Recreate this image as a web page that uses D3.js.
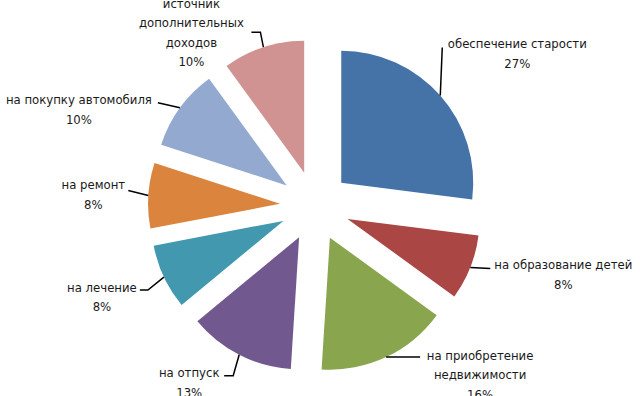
<!DOCTYPE html>
<html>
<head>
<meta charset="utf-8">
<script src="https://cdn.jsdelivr.net/npm/d3@7"></script>
<style>
  body { margin: 0; background: #fff; }
  text { font-family: "DejaVu Sans Condensed", "DejaVu Sans", sans-serif; }
</style>
</head>
<body>
<div id="chart"></div>
<script>
// categories and values (percent)
const categories = [
    "обеспечение старости",
    "на образование детей",
    "на приобретение\nнедвижимости",
    "на отпуск",
    "на лечение",
    "на ремонт",
    "на покупку автомобиля",
    "источник\nдополнительных\nдоходов"
];
const values = [27, 8, 16, 13, 8, 8, 10, 10];
const colors = ["#4572A7", "#AA4643", "#89A54E", "#71588F", "#4198AF", "#DB843D", "#93A9CF", "#D19392"];

// label placement relative to the point where the leader leaves the slice
const labelOffsets = [[77, -52], [93, -3], [94, -2], [-50, 18], [-62, 10], [-55, -11], [-101, -8], [-72, -44]];
const leaderBends = [
    [[2, -48]],
    [[20, 1]],
    [[34, 0]],
    [[-6, 21], [-15, 21]],
    [[-16, 13], [-24, 13]],
    [[-20, -5]],
    [[-22, -5]],
    [[-3, -15], [-12, -15]]
];

const w = 640;
const h = 396;
const cx = 315, cy = 206;
const radius = 132;
const explode = 35;
const lineH = 19.5;

var svg = d3.select("#chart")
    .append("svg")
    .attr("width", w)
    .attr("height", h);

var pie = d3.pie().sort(null).value(d => d);
var arcs = pie(values);
var arc = d3.arc().innerRadius(0).outerRadius(radius);

var g = svg.append("g").attr("transform", `translate(${cx},${cy})`);

function dir(a) { return [Math.sin(a), -Math.cos(a)]; }

arcs.forEach((d, i) => {
    var mid = (d.startAngle + d.endAngle) / 2;
    var u = dir(mid);
    var ox = u[0] * explode, oy = u[1] * explode;

    // slice
    g.append("path")
        .attr("d", arc(d))
        .attr("transform", `translate(${ox},${oy})`)
        .attr("fill", colors[i]);

    // leader line
    var px = ox + u[0] * radius, py = oy + u[1] * radius;
    var pts = [[px, py]].concat(leaderBends[i].map(b => [px + b[0], py + b[1]]));
    g.append("path")
        .attr("d", d3.line()(pts))
        .attr("fill", "none")
        .attr("stroke", "#000")
        .attr("stroke-width", 1.5);

    // label
    var lines = categories[i].split("\n").concat([values[i] + "%"]);
    var t = g.append("text")
        .attr("text-anchor", "middle")
        .attr("font-size", 13)
        .attr("fill", "#1a1a1a");
    lines.forEach((s, k) => {
        t.append("tspan")
            .attr("x", px + labelOffsets[i][0])
            .attr("y", py + labelOffsets[i][1] + k * lineH)
            .attr("dy", "0.35em")
            .text(s);
    });
});
</script>
</body>
</html>
